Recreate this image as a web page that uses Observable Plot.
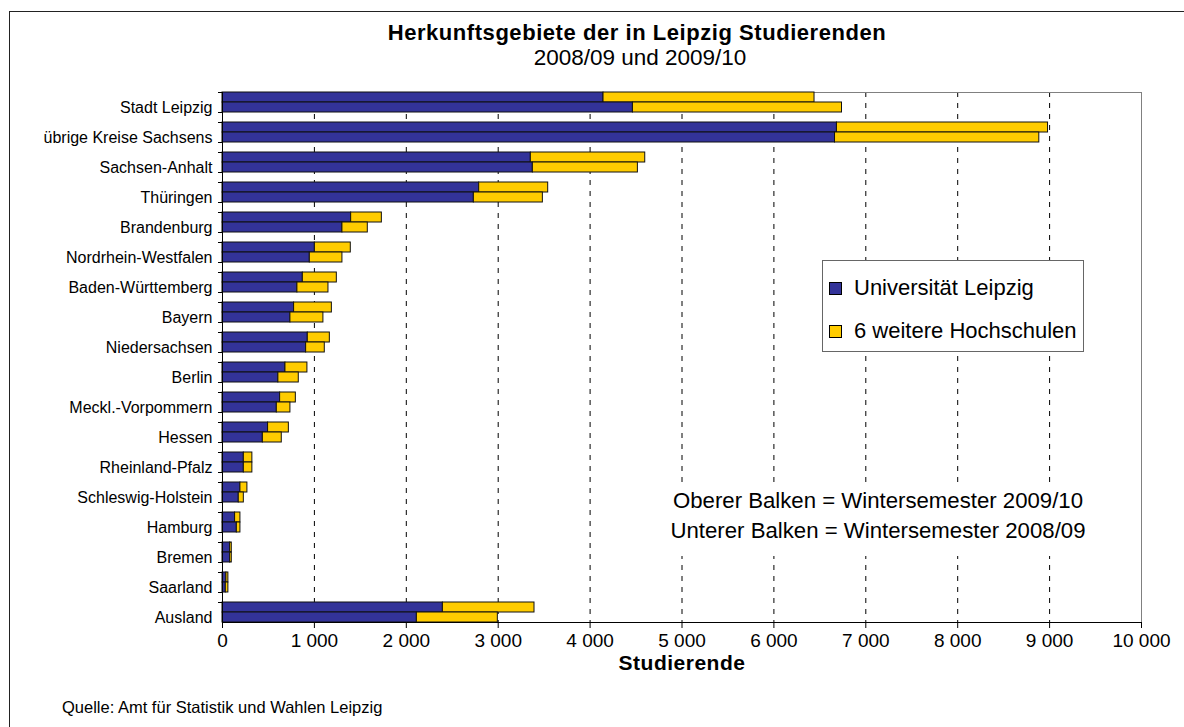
<!DOCTYPE html>
<html>
<head>
<meta charset="utf-8">
<script src="https://cdn.jsdelivr.net/npm/d3@7"></script>
<script src="https://cdn.jsdelivr.net/npm/@observablehq/plot@0.6"></script>
<style>
  html, body { margin: 0; padding: 0; background: #fff; }
  body { width: 1184px; height: 727px; position: relative; overflow: hidden; font-family: "Liberation Sans", Arial, sans-serif; color: #000; }
  .abs { position: absolute; white-space: nowrap; line-height: 1; }
  #chart { position: absolute; left: 0; top: 0; }
  #outer { position: absolute; left: 9px; top: 11px; width: 1400px; height: 900px; border-top: 1px solid #222; border-left: 1px solid #222; }
  #title { font-weight: bold; font-size: 22px; letter-spacing: 0.55px; left: 637px; top: 22px; transform: translateX(-50%); }
  #subtitle { font-size: 22.5px; left: 640px; top: 47px; transform: translateX(-50%); }
  #xlabel { font-weight: bold; font-size: 21px; letter-spacing: 0.5px; left: 682px; top: 652px; transform: translateX(-50%); }
  #source { font-size: 16.5px; left: 62px; top: 699px; }
  #legend { position: absolute; left: 822px; top: 260px; width: 260px; height: 90px; border: 1px solid #666; background: #fff; }
  .lrow { position: absolute; left: 6px; display: flex; align-items: center; font-size: 22px; white-space: nowrap; }
  .sw { width: 13px; height: 13px; border: 1px solid #000; margin-right: 12px; box-sizing: border-box; }
  #note { position: absolute; left: 664px; top: 486px; width: 428px; height: 70px; background: #fff; text-align: center; font-size: 22.2px; line-height: 29.5px; }
</style>
</head>
<body>
<div id="outer"></div>
<div id="chart"></div>
<div id="title" class="abs">Herkunftsgebiete der in Leipzig Studierenden</div>
<div id="subtitle" class="abs">2008/09 und 2009/10</div>
<div id="xlabel" class="abs">Studierende</div>
<div id="source" class="abs">Quelle: Amt für Statistik und Wahlen Leipzig</div>
<div id="legend"></div>
<div id="note"></div>
<script>
// ---- data ----
const regions = ["Stadt Leipzig", "übrige Kreise Sachsens", "Sachsen-Anhalt", "Thüringen", "Brandenburg",
  "Nordrhein-Westfalen", "Baden-Württemberg", "Bayern", "Niedersachsen", "Berlin", "Meckl.-Vorpommern",
  "Hessen", "Rheinland-Pfalz", "Schleswig-Holstein", "Hamburg", "Bremen", "Saarland", "Ausland"];
const institutions = ["Universität Leipzig", "6 weitere Hochschulen"];
const semesters = ["2009/10", "2008/09"];
// Wintersemester 2009/10 (oberer Balken)
const uni0910   = [4146, 6686, 3355, 2793, 1400, 1005, 874, 779, 928, 685, 627, 496, 232, 195, 137, 83, 42, 2398];
const other0910 = [2296, 2297, 1245, 751, 334, 391, 370, 411, 240, 239, 171, 226, 93, 76, 58, 18, 22, 997];
// Wintersemester 2008/09 (unterer Balken)
const uni0809   = [4466, 6665, 3377, 2735, 1305, 950, 815, 739, 910, 608, 591, 439, 232, 177, 156, 83, 36, 2115];
const other0809 = [2275, 2223, 1143, 751, 276, 355, 338, 359, 203, 222, 148, 206, 93, 55, 39, 18, 28, 881];
const xTicks = [0, 1000, 2000, 3000, 4000, 5000, 6000, 7000, 8000, 9000, 10000];
const gridTicks = [1000, 2000, 3000, 4000, 5000, 6000, 7000, 8000, 9000];
const noteLines = ["Oberer Balken = Wintersemester 2009/10", "Unterer Balken = Wintersemester 2008/09"];
const colors = ["#333399", "#FFCC00"];

// ---- table ----
const rows = [];
regions.forEach((r, i) => {
  rows.push({key: r + "|a", inst: institutions[0], value: uni0910[i]});
  rows.push({key: r + "|a", inst: institutions[1], value: other0910[i]});
  rows.push({key: r + "|b", inst: institutions[0], value: uni0809[i]});
  rows.push({key: r + "|b", inst: institutions[1], value: other0809[i]});
});
const yKeys = [];
regions.forEach((r, i) => {
  yKeys.push(r + "|a", r + "|b");
  if (i < regions.length - 1) yKeys.push(r + "|gap");
});
const tickKeys = [];
regions.forEach((r, i) => {
  tickKeys.push(r + "|a");
  if (i < regions.length - 1) tickKeys.push(r + "|gap");
});
const labelKeys = regions.map(r => r + "|b");

const fmt = d => d3.format(",")(d).replace(/,/g, " ");

const plot = Plot.plot({
  width: 1184,
  height: 727,
  marginLeft: 222,
  marginRight: 43,
  marginTop: 92,
  marginBottom: 105,
  style: {fontFamily: "Liberation Sans, Arial, sans-serif", color: "#000", background: "transparent"},
  x: {domain: [0, 10000]},
  y: {domain: yKeys, padding: 0, axis: null},
  color: {domain: institutions, range: colors},
  marks: [
    Plot.ruleX(gridTicks, {stroke: "#000", strokeDasharray: "5,6", strokeWidth: 1}),
    Plot.frame({stroke: "#808080"}),
    Plot.barX(rows, Plot.stackX({x: "value", y: "key", fill: "inst", stroke: "#111", strokeWidth: 1})),
    Plot.frame({anchor: "left", stroke: "#000"}),
    Plot.frame({anchor: "bottom", stroke: "#000"}),
    Plot.axisX({ticks: xTicks, tickSize: 6, tickPadding: 5, tickFormat: fmt, fontSize: 19, label: null, stroke: "#000"}),
    Plot.axisY({ticks: tickKeys, tickSize: 4, tickFormat: () => "", dy: -5, label: null, stroke: "#000"}),
    Plot.axisY({ticks: labelKeys, tickSize: 0, tickPadding: 10, tickFormat: k => k.split("|")[0], fontSize: 16, label: null})
  ]
});
document.getElementById("chart").appendChild(plot);

// legend
const legend = document.getElementById("legend");
institutions.forEach((name, i) => {
  const row = document.createElement("div");
  row.className = "lrow";
  row.style.top = (i === 0 ? 14 : 57) + "px";
  const sw = document.createElement("div");
  sw.className = "sw";
  sw.style.background = colors[i];
  row.appendChild(sw);
  row.appendChild(document.createTextNode(name));
  legend.appendChild(row);
});
// note
const note = document.getElementById("note");
noteLines.forEach(t => {
  const d = document.createElement("div");
  d.textContent = t;
  note.appendChild(d);
});
</script>
</body>
</html>
